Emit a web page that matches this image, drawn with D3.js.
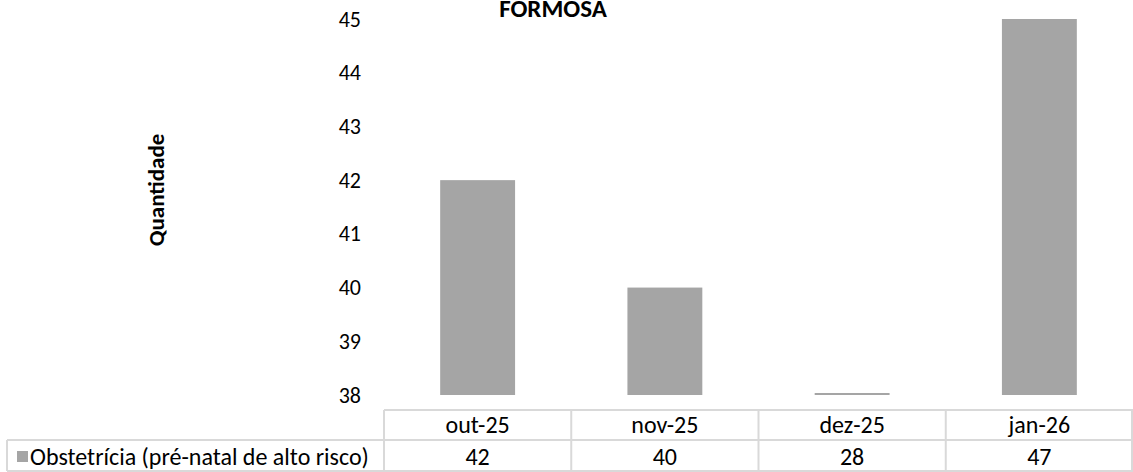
<!DOCTYPE html>
<html>
<head>
<meta charset="utf-8">
<script src="https://cdn.jsdelivr.net/npm/d3@7"></script>
<style>
  body { margin: 0; background: #fff; }
  svg { display: block; font-family: Calibri, Carlito, Lato, sans-serif; }
</style>
</head>
<body>
<svg id="main" width="1133" height="472"></svg>
<script>
var categories = ['out-25', 'nov-25', 'dez-25', 'jan-26'];
var values = [42, 40, 28, 47];
var seriesName = 'Obstetrícia (pré-natal de alto risco)';
var yTicks = [38, 39, 40, 41, 42, 43, 44, 45];
var title = 'FORMOSA';
var yTitle = 'Quantidade';

var svg = d3.select('svg#main');
var gridColor = '#d9d9d9';
var barColor = '#a5a5a5';

var x = d3.scaleBand().domain(categories).range([384, 1133]).padding(0);
var y = d3.scaleLinear().domain([38, 45]).range([395, 19]);

// title (sits half off the top like the source)
svg.append('text')
    .attr('x', 553).attr('y', 17)
    .attr('text-anchor', 'middle')
    .attr('font-weight', 'bold')
    .attr('font-size', 25)
    .text(title);

// y axis labels only, no line
var yAxis = d3.axisLeft(y).tickValues(yTicks).tickFormat(d3.format('d')).tickSize(0).tickPadding(0);
var gy = svg.append('g').attr('transform', 'translate(361,0)').call(yAxis);
gy.select('.domain').remove();
gy.selectAll('text').attr('font-size', 22).attr('fill', '#000')
    .attr('font-family', 'Calibri, Carlito, Lato, sans-serif');

svg.append('text')
    .attr('transform', 'translate(164,190) rotate(-90)')
    .attr('text-anchor', 'middle')
    .attr('font-weight', 'bold')
    .attr('font-size', 23)
    .text(yTitle);

// bars, clipped to the axis range like Excel does
var barW = x.bandwidth() * 0.4;
svg.selectAll('rect.bar').data(values)
    .join('rect')
    .attr('class', 'bar')
    .attr('x', (d, i) => x(categories[i]) + (x.bandwidth() - barW) / 2)
    .attr('y', d => {
        var top = y(Math.max(38, Math.min(45, d)));
        return Math.min(top, y(38) - 2);
    })
    .attr('width', barW)
    .attr('height', d => Math.max(2, y(38) - y(Math.max(38, Math.min(45, d)))))
    .attr('fill', barColor);

// data table
var rowTop = 410, rowMid = 440, rowBot = 471;
var grid = svg.append('g').attr('stroke', gridColor).attr('stroke-width', 2);
grid.append('line').attr('x1', 384).attr('x2', 1133).attr('y1', rowTop).attr('y2', rowTop);
grid.append('line').attr('x1', 7).attr('x2', 1133).attr('y1', rowMid).attr('y2', rowMid);
grid.append('line').attr('x1', 7).attr('x2', 1133).attr('y1', rowBot).attr('y2', rowBot);
grid.append('line').attr('x1', 7).attr('x2', 7).attr('y1', rowMid).attr('y2', rowBot);
grid.selectAll('line.col').data(categories)
    .join('line').attr('class', 'col')
    .attr('x1', d => x(d)).attr('x2', d => x(d))
    .attr('y1', rowTop).attr('y2', rowBot);
grid.append('line').attr('x1', 1132).attr('x2', 1132).attr('y1', rowTop).attr('y2', rowBot);

svg.selectAll('text.cat').data(categories)
    .join('text').attr('class', 'cat')
    .attr('x', d => x(d) + x.bandwidth() / 2)
    .attr('y', 433)
    .attr('text-anchor', 'middle')
    .attr('font-size', 24)
    .text(d => d);

svg.selectAll('text.val').data(values)
    .join('text').attr('class', 'val')
    .attr('x', (d, i) => x(categories[i]) + x.bandwidth() / 2)
    .attr('y', 465)
    .attr('text-anchor', 'middle')
    .attr('font-size', 24)
    .text(d => d);

// legend key inside table
svg.append('rect')
    .attr('x', 17).attr('y', 451).attr('width', 11).attr('height', 11)
    .attr('fill', barColor);
svg.append('text')
    .attr('x', 30).attr('y', 465)
    .attr('font-size', 24)
    .text(seriesName);
</script>
</body>
</html>
